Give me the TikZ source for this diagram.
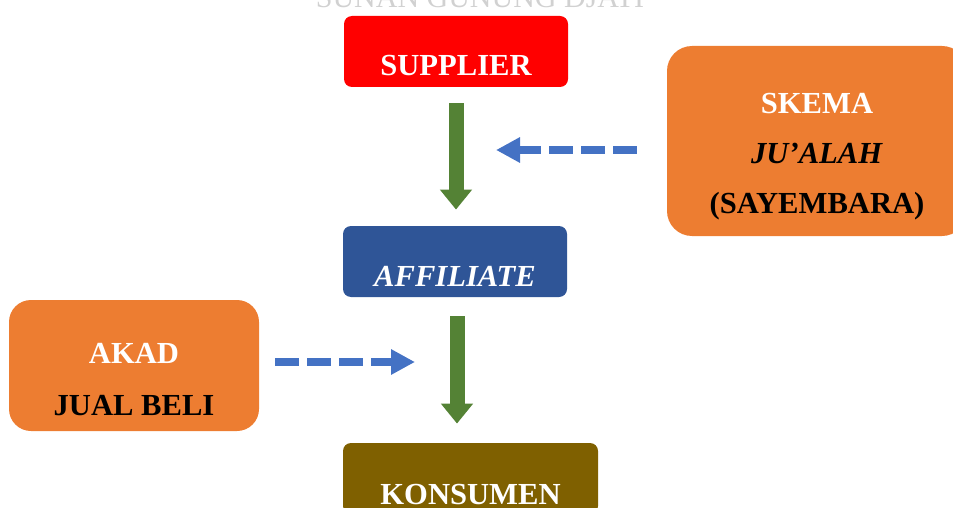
\documentclass[tikz,border=0pt]{standalone}
\usepackage{fontspec}
\setmainfont{Liberation Serif}
\usetikzlibrary{arrows.meta, positioning}
\definecolor{supred}{HTML}{FF0000}
\definecolor{affblue}{HTML}{2F5597}
\definecolor{konbrown}{HTML}{7F6000}
\definecolor{akadorange}{HTML}{ED7D31}
\definecolor{flowgreen}{HTML}{548235}
\definecolor{linkblue}{HTML}{4472C4}
\newcommand{\toppad}[1]{\rule{0pt}{#1}}
\tikzset{
  topbox/.style   = {rectangle, rounded corners=4pt, minimum width=112pt,
                     minimum height=35.5pt, inner sep=0pt, text=white,
                     font=\fontsize{15.3}{18}\selectfont\bfseries,
                     text height=24.5pt, text depth=0pt},
  sidebox/.style  = {rectangle, fill=akadorange, align=center, inner sep=0pt,
                     text=black, font=\fontsize{15.3}{25}\selectfont\bfseries},
  flow/.style     = {-{Triangle[width=15.5pt, length=10pt]}, line width=7.5pt,
                     draw=flowgreen},
  link/.style     = {-{Triangle[width=12pt, length=12pt]}, line width=4pt,
                     draw=linkblue, dash pattern=on 12pt off 4pt},
  watermark/.style= {text=black!18, font=\fontsize{15}{18}\selectfont, anchor=base}
}
\begin{document}
\begin{tikzpicture}[x=0.5pt, y=-0.5pt]
  \useasboundingbox (0,0) rectangle (953,508);
  \node[watermark] (wm) at (480,8) {SUNAN GUNUNG DJATI};
  \node[topbox, fill=supred]   (supplier)  at (456,51.5)  {SUPPLIER};
  \node[topbox, fill=affblue]  (affiliate) at (455,261.5) {\itshape AFFILIATE};
  \node[topbox, fill=konbrown, minimum width=127.5pt, text height=25.5pt] (konsumen) at (470.5,478.5) {KONSUMEN};
  \node[sidebox, minimum width=150pt, minimum height=95pt, rounded corners=12.5pt]
    (skema) at (817,141)
    {\toppad{26pt}\textcolor{white}{SKEMA}\\ \textit{JU’ALAH}\\ (SAYEMBARA)};
  \node[sidebox, minimum width=125pt, minimum height=65.5pt, rounded corners=11pt,
        font=\fontsize{15.3}{26}\selectfont\bfseries]
    (akad) at (134,365.5)
    {\toppad{24.5pt}\textcolor{white}{AKAD}\\ JUAL BELI};
  \coordinate (jualahtip) at (496,150);
  \coordinate (akadtip)   at (415,362);
  \draw[flow, shorten <=8pt, shorten >=8pt] (supplier.south) -- (supplier.south |- affiliate.north);
  \draw[flow, shorten <=9.5pt, shorten >=9.5pt] ([xshift=1pt]affiliate.south) -- ([xshift=1pt]affiliate.south |- konsumen.north);
  \draw[link, shorten <=15pt] (skema.west |- jualahtip) -- (jualahtip);
  \draw[link, shorten <=8pt]  (akad.east |- akadtip) -- (akadtip);
\end{tikzpicture}
\end{document}
